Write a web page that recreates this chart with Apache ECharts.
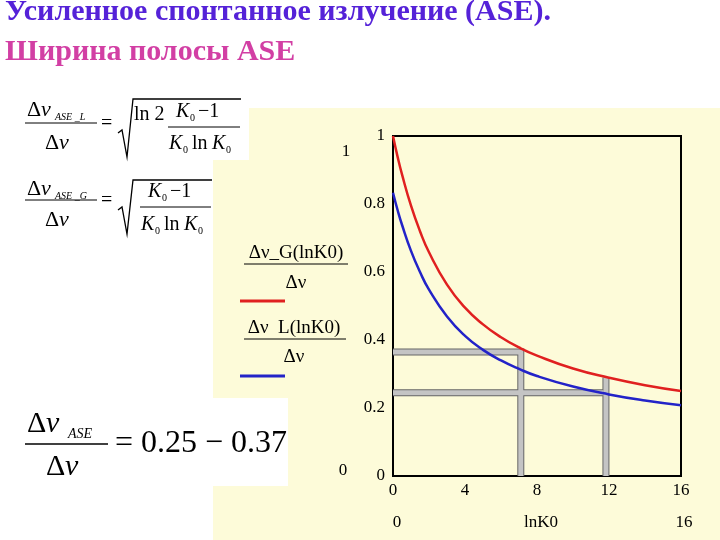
<!DOCTYPE html>
<html>
<head>
<meta charset="utf-8">
<title>Ширина полосы ASE</title>
<script src="https://cdn.jsdelivr.net/npm/echarts@6/dist/echarts.min.js"></script>
<style>
  html, body { margin: 0; padding: 0; background: #fff; }
  #main { width: 720px; height: 540px; }
</style>
</head>
<body>
<div id="main"></div>
<script>
// значения (x = lnK0)
var lnK0 = [0, 0.25, 0.5, 1, 1.5, 2, 3, 4, 5, 6, 7, 8, 10, 12, 14, 16];
var ratioG = [1.0, 0.94, 0.887, 0.795, 0.72, 0.658, 0.563, 0.495, 0.446, 0.408, 0.378, 0.354, 0.316, 0.289, 0.267, 0.25];
var ratioL = [0.833, 0.783, 0.739, 0.662, 0.6, 0.548, 0.469, 0.412, 0.371, 0.34, 0.315, 0.294, 0.263, 0.24, 0.222, 0.208];
// серые направляющие
var guide1 = [[0, 0.365], [7.1, 0.365], [7.1, 0]];
var guide2h = [[0, 0.245], [11.7, 0.245]];
var guide2v = [[11.83, 0.29], [11.83, 0]];

var serif = '"Liberation Serif", "DejaVu Serif", serif';

function pairs(xs, ys) {
  return xs.map(function (x, i) { return [x, ys[i]]; });
}

function guide(data, color, width, z) {
  return {
    type: 'line', data: data, showSymbol: false, silent: true, z: z,
    lineStyle: { color: color, width: width, cap: 'butt', join: 'miter' }
  };
}

function txt(x, y, s, opts) {
  opts = opts || {};
  return {
    type: 'text', x: x, y: y, z: 10,
    style: {
      text: s, fill: opts.fill || '#000',
      font: (opts.style || '') + ' ' + (opts.weight || 'normal') + ' ' + (opts.size || 17) + 'px ' + (opts.family || serif),
      textAlign: opts.align || 'left', textVerticalAlign: 'middle'
    }
  };
}

function hline(x1, x2, y, color, w) {
  return { type: 'line', z: 10, shape: { x1: x1, y1: y, x2: x2, y2: y }, style: { stroke: color || '#000', lineWidth: w || 1 } };
}

function radical(xs, yb, yt, xe) {
  return { type: 'polyline', z: 10, shape: { points: [[xs, yb - 24], [xs + 4, yb - 27], [xs + 9, yb], [xs + 15, yt], [xe, yt]] },
    style: { stroke: '#000', lineWidth: 1.3, fill: null } };
}

var chart = echarts.init(document.getElementById('main'));

var graphics = [
  // фон
  { type: 'rect', z: -10, shape: { x: 213, y: 108, width: 507, height: 432 }, style: { fill: '#fdfbd9' } },
  { type: 'rect', z: -9, shape: { x: 213, y: 108, width: 36, height: 52 }, style: { fill: '#fff' } },
  { type: 'rect', z: -9, shape: { x: 0, y: 398, width: 288, height: 88 }, style: { fill: '#fff' } },

  // заголовок
  txt(5, 12, 'Усиленное спонтанное излучение (ASE).', { size: 30, weight: 'bold', fill: '#5522d8' }),
  txt(5, 52, 'Ширина полосы ASE', { size: 30, weight: 'bold', fill: '#d23fa4' }),

  // формула 1
  txt(27, 110, 'Δ', { size: 22 }), txt(41, 110, 'ν', { size: 22, style: 'italic' }),
  txt(55, 117, 'ASE _L', { size: 10, style: 'italic' }),
  hline(25, 97, 123),
  txt(45, 143, 'Δ', { size: 22 }), txt(59, 143, 'ν', { size: 22, style: 'italic' }),
  txt(101, 124, '=', { size: 20 }),
  radical(118, 157, 99, 241),
  txt(134, 115, 'ln 2', { size: 20 }),
  txt(176, 112, 'K', { size: 20, style: 'italic' }), txt(190, 118, '0', { size: 10 }), txt(198, 112, '−1', { size: 20 }),
  hline(168, 240, 127),
  txt(169, 144, 'K', { size: 20, style: 'italic' }), txt(183, 150, '0', { size: 10 }),
  txt(192, 144, 'ln', { size: 20 }), txt(212, 144, 'K', { size: 20, style: 'italic' }), txt(226, 150, '0', { size: 10 }),

  // формула 2
  txt(27, 189, 'Δ', { size: 22 }), txt(41, 189, 'ν', { size: 22, style: 'italic' }),
  txt(55, 196, 'ASE _G', { size: 10, style: 'italic' }),
  hline(25, 97, 200),
  txt(45, 220, 'Δ', { size: 22 }), txt(59, 220, 'ν', { size: 22, style: 'italic' }),
  txt(101, 201, '=', { size: 20 }),
  radical(118, 234, 180, 212),
  txt(148, 192, 'K', { size: 20, style: 'italic' }), txt(162, 198, '0', { size: 10 }), txt(170, 192, '−1', { size: 20 }),
  hline(140, 211, 207),
  txt(141, 225, 'K', { size: 20, style: 'italic' }), txt(155, 231, '0', { size: 10 }),
  txt(164, 225, 'ln', { size: 20 }), txt(184, 225, 'K', { size: 20, style: 'italic' }), txt(198, 231, '0', { size: 10 }),

  // формула 3
  txt(27, 424, 'Δ', { size: 30 }), txt(46, 424, 'ν', { size: 30, style: 'italic' }),
  txt(68, 434, 'ASE', { size: 14, style: 'italic' }),
  hline(25, 108, 444, '#000', 1.5),
  txt(46, 467, 'Δ', { size: 30 }), txt(65, 467, 'ν', { size: 30, style: 'italic' }),
  txt(115, 444, '= 0.25 − 0.37', { size: 32 }),

  // легенда
  txt(296, 253, 'Δν_G(lnK0)', { size: 19, align: 'center' }),
  hline(244, 348, 264),
  txt(296, 283, 'Δν', { size: 19, align: 'center' }),
  hline(240, 285, 301, '#e02020', 3),
  txt(294, 328, 'Δν  L(lnK0)', { size: 19, align: 'center' }),
  hline(244, 346, 339),
  txt(294, 357, 'Δν', { size: 19, align: 'center' }),
  hline(240, 285, 376, '#2323c8', 3),

  // дополнительные подписи осей
  txt(346, 152, '1', { size: 17, align: 'center' }),
  txt(343, 471, '0', { size: 17, align: 'center' }),
  txt(397, 523, '0', { size: 17, align: 'center' }),
  txt(541, 523, 'lnK0', { size: 17, align: 'center' }),
  txt(684, 523, '16', { size: 17, align: 'center' })
];

var option = {
  animation: false,
  grid: { left: 393, right: 39, top: 136, bottom: 64, show: true, borderColor: '#000', borderWidth: 2, backgroundColor: 'transparent' },
  xAxis: {
    type: 'value', min: 0, max: 16, interval: 4,
    axisLine: { show: true, lineStyle: { color: '#000', width: 2 } },
    axisTick: { show: false }, splitLine: { show: false },
    axisLabel: { color: '#000', fontFamily: serif, fontSize: 17, margin: 6 }
  },
  yAxis: {
    type: 'value', min: 0, max: 1, interval: 0.2,
    axisLine: { show: true, lineStyle: { color: '#000', width: 2 } },
    axisTick: { show: false }, splitLine: { show: false },
    axisLabel: { color: '#000', fontFamily: serif, fontSize: 17, margin: 8 }
  },
  series: [
    guide(guide1, '#666', 7, 1),
    guide(guide1, '#c4c4c4', 5, 2),
    guide(guide2h, '#666', 7, 1),
    guide(guide2h, '#c4c4c4', 5, 2),
    guide(guide2v, '#666', 7, 1),
    guide(guide2v, '#c4c4c4', 5, 2),
    { type: 'line', name: 'G', data: pairs(lnK0, ratioG), smooth: true, showSymbol: false, z: 5,
      lineStyle: { color: '#e02020', width: 2.5 } },
    { type: 'line', name: 'L', data: pairs(lnK0, ratioL), smooth: true, showSymbol: false, z: 5,
      lineStyle: { color: '#2323c8', width: 2.5 } }
  ],
  graphic: graphics
};

chart.setOption(option);
</script>
</body>
</html>
